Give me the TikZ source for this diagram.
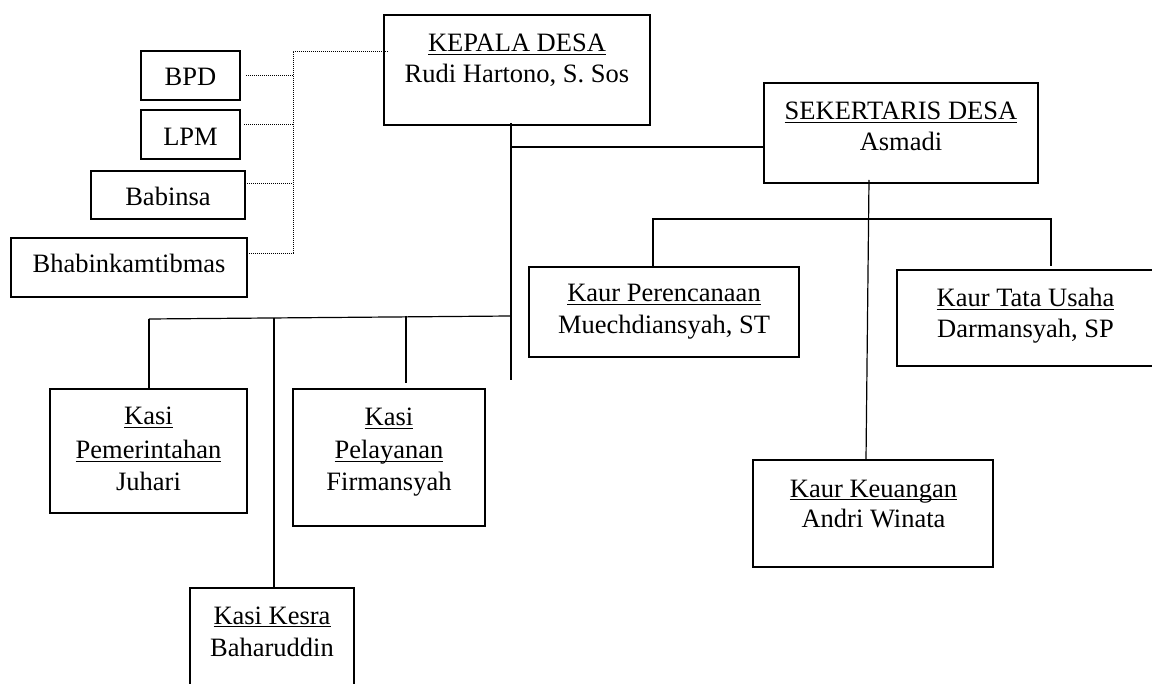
\documentclass[tikz,border=0pt]{standalone}
\usepackage{fontspec}
\setmainfont{Liberation Serif}
\newcommand{\ulin}[1]{\setbox0\hbox{#1}\rlap{\rule[-3pt]{\wd0}{1.3pt}}\box0}
\begin{document}
\begin{tikzpicture}[x=1pt,y=-1pt,
  box/.style={draw, line width=1.2pt, inner sep=0pt, outer sep=0pt, anchor=north west},
  lbl/.style={inner sep=0pt, anchor=base, font=\fontsize{26.5}{31}\selectfont},
  link/.style={line width=1.2pt},
  dotlink/.style={line width=0.9pt, dash pattern=on 1pt off 1pt}]
\useasboundingbox (0,0) rectangle (1152,684);
\clip (0,0) rectangle (1152,684);
% boxes
\node[box, minimum width=99, minimum height=49] (bpd) at (141,51) {};
\node[box, minimum width=99, minimum height=49] (lpm) at (141,110) {};
\node[box, minimum width=154, minimum height=48] (babinsa) at (91,171) {};
\node[box, minimum width=236, minimum height=59] (bhabin) at (11,238) {};
\node[box, minimum width=266, minimum height=110] (kepala) at (384,15) {};
\node[box, minimum width=274, minimum height=100] (sekdes) at (764,83) {};
\node[box, minimum width=270, minimum height=90] (perenc) at (529,267) {};
\node[box, minimum width=262, minimum height=96] (tatausaha) at (897,270) {};
\node[box, minimum width=240, minimum height=107] (keuangan) at (753,460) {};
\node[box, minimum width=197, minimum height=124] (pemerintahan) at (50,389) {};
\node[box, minimum width=192, minimum height=137] (pelayanan) at (293,389) {};
\node[box, minimum width=164, minimum height=120] (kesra) at (190,588) {};
% texts
\node[lbl] (bpd-t) at (190.5,86) {BPD};
\node[lbl] (lpm-t) at (190.5,146) {LPM};
\node[lbl] (babinsa-t) at (168,206) {Babinsa};
\node[lbl] (bhabin-t) at (129,273) {Bhabinkamtibmas};
\node[lbl] (kepala-a) at (517,52) {\ulin{KEPALA DESA}};
\node[lbl] (kepala-b) at (517,83) {Rudi Hartono, S. Sos};
\node[lbl] (sekdes-a) at (901,120) {\ulin{SEKERTARIS DESA}};
\node[lbl] (sekdes-b) at (901,151) {Asmadi};
\node[lbl] (perenc-a) at (664,302) {\ulin{Kaur Perencanaan}};
\node[lbl] (perenc-b) at (664,334) {Muechdiansyah, ST};
\node[lbl] (tatausaha-a) at (1025.5,307) {\ulin{Kaur Tata Usaha}};
\node[lbl] (tatausaha-b) at (1025.5,338) {Darmansyah, SP};
\node[lbl] (keuangan-a) at (873.5,497) {\ulin{Kaur Keuangan}};
\node[lbl] (keuangan-b) at (873.5,528) {Andri Winata};
\node[lbl] (pem-a) at (148.5,425) {\ulin{Kasi}};
\node[lbl] (pem-b) at (148.5,459) {\ulin{Pemerintahan}};
\node[lbl] (pem-c) at (148.5,491) {Juhari};
\node[lbl] (pel-a) at (389,426) {\ulin{Kasi}};
\node[lbl] (pel-b) at (389,459) {\ulin{Pelayanan}};
\node[lbl] (pel-c) at (389,491) {Firmansyah};
\node[lbl] (kesra-a) at (272,624) {\ulin{Kasi Kesra}};
\node[lbl] (kesra-b) at (272,656) {Baharuddin};
% coordinates for free ends / junctions
\coordinate (spineTop) at (511,123);
\coordinate (spineEnd) at (511,380);
\coordinate (sekJoin) at (511,147);
\coordinate (busR) at (511,316);
\coordinate (busL) at (149,319);
\coordinate (busKesra) at (274,318);
\coordinate (busPel) at (406,316);
\coordinate (pelEnd) at (406,383);
\coordinate (sekTop) at (869,180);
\coordinate (kaurL) at (653,219);
\coordinate (kaurR) at (1051,219);
\coordinate (tataEnd) at (1051,266);
\coordinate (dotTop) at (293,51);
\coordinate (dotEnd) at (388,51);
\coordinate (dotBot) at (293,253);
% solid connectors
\draw[link] (spineTop) -- (spineEnd);
\draw[link] (sekJoin) -- (sekdes.west |- sekJoin);
\draw[link] (busL) -- (busR);
\draw[link] (busL) -- (pemerintahan.north -| busL);
\draw[link] (busKesra) -- (kesra.north -| busKesra);
\draw[link] (busPel) -- (pelEnd);
\draw[link] (sekTop) -- (keuangan.north -| 866,0);
\draw[link] (perenc.north -| kaurL) -- (kaurL) -- (kaurR) -- (tataEnd);
% dotted connectors
\draw[dotlink] (dotEnd) -- (dotTop) -- (dotBot) -- (bhabin.east |- dotBot);
\draw[dotlink] (bpd.east |- 0,75) ++(6,0) -- (dotTop |- 0,75);
\draw[dotlink] (lpm.east |- 0,124) ++(4,0) -- (dotTop |- 0,124);
\draw[dotlink] (babinsa.east |- 0,183) -- (dotTop |- 0,183);
\end{tikzpicture}
\end{document}
